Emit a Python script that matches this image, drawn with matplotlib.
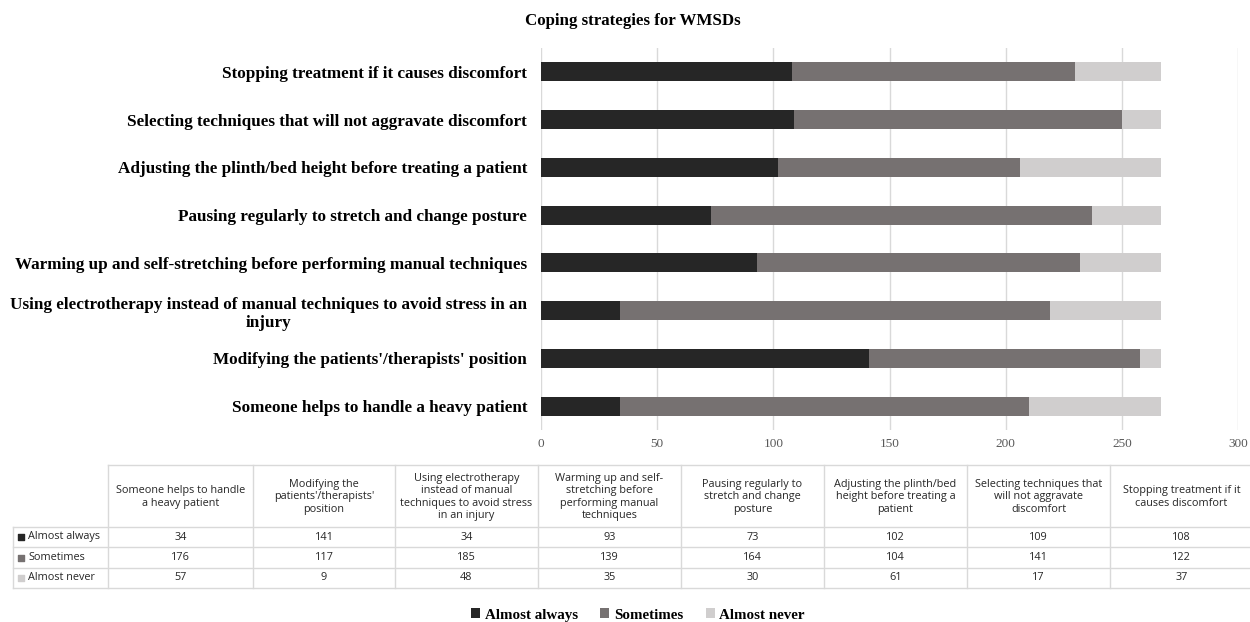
import numpy as np
import matplotlib
matplotlib.use('Agg')
import matplotlib.pyplot as plt
from matplotlib.patches import Patch

# data
categories = [
    "Someone helps to handle a heavy patient",
    "Modifying the patients'/therapists' position",
    "Using electrotherapy instead of manual techniques to avoid stress in an\ninjury",
    "Warming up and self-stretching before performing manual techniques",
    "Pausing regularly to stretch and change posture",
    "Adjusting the plinth/bed height before treating a patient",
    "Selecting techniques that will not aggravate discomfort",
    "Stopping treatment if it causes discomfort",
]
table_headers = [
    "Someone helps to handle\na heavy patient",
    "Modifying the\npatients'/therapists'\nposition",
    "Using electrotherapy\ninstead of manual\ntechniques to avoid stress\nin an injury",
    "Warming up and self-\nstretching before\nperforming manual\ntechniques",
    "Pausing regularly to\nstretch and change\nposture",
    "Adjusting the plinth/bed\nheight before treating a\npatient",
    "Selecting techniques that\nwill not aggravate\ndiscomfort",
    "Stopping treatment if it\ncauses discomfort",
]
almost_always = [34, 141, 34, 93, 73, 102, 109, 108]
sometimes = [176, 117, 185, 139, 164, 104, 141, 122]
almost_never = [57, 9, 48, 35, 30, 61, 17, 37]
series_names = ["Almost always", "Sometimes", "Almost never"]
colors = ["#262626", "#767171", "#d0cece"]
xticks = [0, 50, 100, 150, 200, 250, 300]

serif = ['Liberation Serif', 'DejaVu Serif']
sans = ['Open Sans', 'DejaVu Sans']

W, H = 1250, 622
fig = plt.figure(figsize=(12.5, 6.22), dpi=100)

# main bar chart
ax = fig.add_axes([541 / W, 1 - 430 / H, (1238 - 541) / W, 382 / H])
y = np.arange(len(categories))
left = np.zeros(len(categories))
for vals, name, c in zip([almost_always, sometimes, almost_never], series_names, colors):
    ax.barh(y, vals, left=left, height=0.4, color=c, label=name, zorder=3)
    left = left + np.array(vals)

ax.set_xlim(0, 300)
ax.set_ylim(-0.5, len(categories) - 0.5)
ax.set_xticks(xticks)
ax.set_xticklabels([str(t) for t in xticks], family=serif, fontsize=9.5, color='#595959')
ax.set_yticks(y)
ax.set_yticklabels(categories, family=serif, fontsize=12.3, fontweight='bold',
                   multialignment='center')
ax.tick_params(axis='both', length=0)
ax.tick_params(axis='y', pad=10)
ax.tick_params(axis='x', pad=6)
ax.grid(axis='x', color='#d9d9d9', linewidth=1, zorder=0)
for s in ax.spines.values():
    s.set_visible(False)

fig.text(0.506, 1 - 21 / H, "Coping strategies for WMSDs", family=serif,
         fontsize=12.2, fontweight='bold', ha='center', va='center')

# data table under the chart, drawn in pixel coordinates
tb = fig.add_axes([0, 0, 1, 1])
tb.set_xlim(0, W)
tb.set_ylim(H, 0)
tb.axis('off')

col_edges = [108, 253, 395, 538, 681, 824, 967, 1110, 1253]
row_edges = [465, 527, 547, 568, 588]
label_left = 13
lc = '#d9d9d9'

# horizontal lines
tb.plot([col_edges[0], col_edges[-1]], [row_edges[0]] * 2, color=lc, lw=1)
for ry in row_edges[1:]:
    tb.plot([label_left, col_edges[-1]], [ry] * 2, color=lc, lw=1)
# vertical lines
for cx in col_edges:
    tb.plot([cx, cx], [row_edges[0], row_edges[-1]], color=lc, lw=1)
tb.plot([label_left, label_left], [row_edges[1], row_edges[-1]], color=lc, lw=1)

for i, h in enumerate(table_headers):
    cx = (col_edges[i] + col_edges[i + 1]) / 2
    tb.text(cx, (row_edges[0] + row_edges[1]) / 2 + 1, h, family=sans, fontsize=7.8,
            ha='center', va='center', color='#262626', linespacing=1.15)

rows = [almost_always, sometimes, almost_never]
for r, (vals, name, c) in enumerate(zip(rows, series_names, colors)):
    cy = (row_edges[r + 1] + row_edges[r + 2]) / 2
    tb.scatter([label_left + 8], [cy], marker='s', s=22, color=c)
    tb.text(label_left + 15, cy, name, family=sans, fontsize=7.8, ha='left',
            va='center', color='#262626')
    for i, v in enumerate(vals):
        cx = (col_edges[i] + col_edges[i + 1]) / 2
        tb.text(cx, cy, str(v), family=sans, fontsize=7.8, ha='center',
                va='center', color='#262626')

# legend
handles = [Patch(facecolor=c, label=n) for c, n in zip(colors, series_names)]
fig.legend(handles=handles, loc='center', bbox_to_anchor=(638 / W, 1 - 615 / H),
           ncol=3, frameon=False, handlelength=0.6, handleheight=0.6,
           handletextpad=0.3, columnspacing=1.5,
           prop={'family': serif, 'weight': 'bold', 'size': 10.8})

fig.savefig('out.png', dpi=100)
